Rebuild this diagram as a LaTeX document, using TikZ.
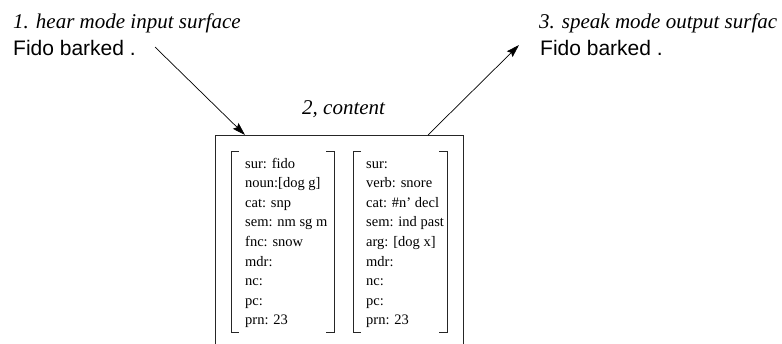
\documentclass[tikz,border=0pt]{standalone}
\usepackage{fontspec}
\setmainfont{Liberation Serif}
\setsansfont{Liberation Sans}
\usetikzlibrary{arrows.meta}
\tikzset{
  heading/.style={anchor=base west, inner sep=0pt, font=\fontsize{21}{24}\selectfont\itshape},
  surface/.style={anchor=base west, inner sep=0pt, font=\fontsize{21}{24}\selectfont\sffamily},
  rec/.style={anchor=base west, inner sep=0pt, font=\fontsize{14.5}{16}\selectfont},
  frame/.style={line width=0.8pt, draw=black!85},
  brk/.style={line width=1pt, draw=black!85},
  conn/.style={line width=0.7pt, -{Stealth[length=13pt,width=8pt,inset=2pt]}},
}
\begin{document}
\begin{tikzpicture}[x=1pt,y=-1pt]
\useasboundingbox (0,0) rectangle (782,343);
% headings
\node[heading] (h1) at (13,28) {1. hear mode input surface};
\node[surface] (s1) at (13,55) {Fido barked .};
\node[heading] (h3) at (539,28) {3. speak mode output surfac};
\node[surface] (s3) at (540,55) {Fido barked .};
\node[heading] (h2) at (302,114) {2, content};
% content frame
\coordinate (bl) at (215,350);
\coordinate (tl) at (215,135);
\coordinate (tr) at (463,135);
\coordinate (br) at (463,350);
\draw[frame] (bl) -- (tl) -- (tr) -- (br);
% connectors
\coordinate (a1s) at (155,47);
\coordinate (a1e) at (245,135);
\coordinate (a2s) at (428,135);
\coordinate (a2e) at (519,45);
\draw[conn] (a1s) -- (a1e);
\draw[conn] (a2s) -- (a2e);
% brackets
\draw[brk] (239,151) -- (231,151) -- (231,332) -- (239,332);
\draw[brk] (326,151) -- (334,151) -- (334,332) -- (326,332);
\draw[brk] (361,151) -- (353,151) -- (353,332) -- (361,332);
\draw[brk] (439,151) -- (447,151) -- (447,332) -- (439,332);
% left record
\node[rec] (l1) at (245,168.0) {sur: fido};
\node[rec] (l2) at (245,187.6) {noun:[dog g]};
\node[rec] (l3) at (245,207.2) {cat: snp};
\node[rec] (l4) at (245,226.8) {sem: nm sg m};
\node[rec] (l5) at (245,246.4) {fnc: snow};
\node[rec] (l6) at (245,266.0) {mdr:};
\node[rec] (l7) at (245,285.6) {nc:};
\node[rec] (l8) at (245,305.2) {pc:};
\node[rec] (l9) at (245,324.8) {prn: 23};
% right record
\node[rec] (r1) at (366,168.0) {sur:};
\node[rec] (r2) at (366,187.6) {verb: snore};
\node[rec] (r3) at (366,207.2) {cat: \#n’ decl};
\node[rec] (r4) at (366,226.8) {sem: ind past};
\node[rec] (r5) at (366,246.4) {arg: [dog x]};
\node[rec] (r6) at (366,266.0) {mdr:};
\node[rec] (r7) at (366,285.6) {nc:};
\node[rec] (r8) at (366,305.2) {pc:};
\node[rec] (r9) at (366,324.8) {prn: 23};
\end{tikzpicture}
\end{document}
